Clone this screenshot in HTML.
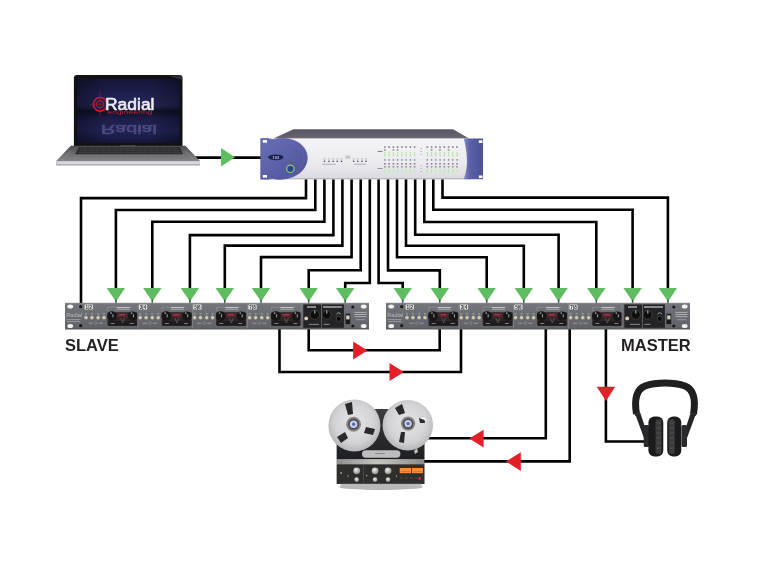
<!DOCTYPE html>
<html><head><meta charset="utf-8">
<style>
html,body{margin:0;padding:0;background:#fff;}
body{width:768px;height:576px;overflow:hidden;position:relative;font-family:"Liberation Sans",sans-serif;-webkit-font-smoothing:antialiased;}
.lbl,svg{will-change:transform;}
svg{position:absolute;left:0;top:0;}
.lbl{position:absolute;font-weight:bold;font-size:16.5px;color:#231f20;letter-spacing:0px;line-height:1;}
</style></head>
<body>
<svg width="768" height="576" viewBox="0 0 768 576">
<defs>
  <linearGradient id="rackg" x1="0" y1="0" x2="0" y2="1">
    <stop offset="0" stop-color="#74777b"/>
    <stop offset="0.5" stop-color="#686b6f"/>
    <stop offset="1" stop-color="#5f6266"/>
  </linearGradient>
  <linearGradient id="topg" x1="0" y1="0" x2="0" y2="1">
    <stop offset="0" stop-color="#5a5766"/>
    <stop offset="0.85" stop-color="#66636f"/>
    <stop offset="1" stop-color="#757280"/>
  </linearGradient>
  <linearGradient id="panelg" x1="0" y1="0" x2="0" y2="1">
    <stop offset="0" stop-color="#f4f4f7"/>
    <stop offset="0.6" stop-color="#ebebef"/>
    <stop offset="1" stop-color="#d9d9e0"/>
  </linearGradient>
  <linearGradient id="purpg" x1="0" y1="0" x2="1" y2="1">
    <stop offset="0" stop-color="#6a6fb4"/>
    <stop offset="0.5" stop-color="#5b60a8"/>
    <stop offset="1" stop-color="#4c5096"/>
  </linearGradient>
  <linearGradient id="purpg2" x1="0" y1="0" x2="1" y2="0">
    <stop offset="0" stop-color="#8a8ec6"/>
    <stop offset="0.3" stop-color="#5b60a8"/>
    <stop offset="1" stop-color="#4d5198"/>
  </linearGradient>
  <linearGradient id="scrg" x1="0" y1="0" x2="0" y2="1">
    <stop offset="0" stop-color="#161638"/>
    <stop offset="0.25" stop-color="#1f2050"/>
    <stop offset="0.42" stop-color="#23244f"/>
    <stop offset="0.5" stop-color="#101028"/>
    <stop offset="0.62" stop-color="#1c1d48"/>
    <stop offset="0.8" stop-color="#23245a"/>
    <stop offset="1" stop-color="#161638"/>
  </linearGradient>
  <linearGradient id="scrg2" x1="0" y1="0" x2="1" y2="0">
    <stop offset="0" stop-color="#000" stop-opacity="0.35"/>
    <stop offset="0.3" stop-color="#000" stop-opacity="0"/>
    <stop offset="0.7" stop-color="#000" stop-opacity="0"/>
    <stop offset="1" stop-color="#000" stop-opacity="0.3"/>
  </linearGradient>
  <linearGradient id="baseg" x1="0" y1="0" x2="0" y2="1">
    <stop offset="0" stop-color="#4a4a4f"/>
    <stop offset="0.5" stop-color="#727277"/>
    <stop offset="1" stop-color="#8e8e93"/>
  </linearGradient>
  <linearGradient id="lipg" x1="0" y1="0" x2="0" y2="1">
    <stop offset="0" stop-color="#c9c9cd"/>
    <stop offset="0.6" stop-color="#dcdce0"/>
    <stop offset="1" stop-color="#8a8a90"/>
  </linearGradient>
  <radialGradient id="reelg" cx="0.5" cy="0.45" r="0.6">
    <stop offset="0" stop-color="#e6e6e8"/>
    <stop offset="0.65" stop-color="#d2d2d5"/>
    <stop offset="1" stop-color="#adadb1"/>
  </radialGradient>
  <linearGradient id="tbodyg" x1="0" y1="0" x2="0" y2="1">
    <stop offset="0" stop-color="#3a3c40"/>
    <stop offset="1" stop-color="#1e1f22"/>
  </linearGradient>
  <linearGradient id="bandg" x1="0" y1="0" x2="1" y2="0">
    <stop offset="0" stop-color="#8e8e8b"/>
    <stop offset="0.45" stop-color="#c4c4c0"/>
    <stop offset="0.6" stop-color="#b8b8b4"/>
    <stop offset="1" stop-color="#8a8a87"/>
  </linearGradient>
  <radialGradient id="knobg" cx="0.4" cy="0.35" r="0.7">
    <stop offset="0" stop-color="#f0f0f0"/>
    <stop offset="1" stop-color="#8a8a8a"/>
  </radialGradient>
</defs>

<!-- WIRES -->
<g fill="none" stroke="#000" stroke-width="2.6" stroke-linejoin="miter" stroke-linecap="butt">
  <path d="M306,179 V198.1 H81 V303"/>
  <path d="M315.3,179 V210 H115.9 V292"/>
  <path d="M324.4,179 V221.8 H152.3 V292"/>
  <path d="M333.4,179 V235.1 H189.9 V292"/>
  <path d="M342.4,179 V245.6 H224.8 V292"/>
  <path d="M351.6,179 V257.1 H261 V292"/>
  <path d="M360.7,179 V270.3 H308.7 V292"/>
  <path d="M369.8,179 V283 H345.2 V292"/>
  <path d="M378.6,179 V283 H402.7 V292"/>
  <path d="M388,179 V270.4 H439.8 V292"/>
  <path d="M397,179 V257.3 H486.7 V292"/>
  <path d="M406,179 V245.8 H523.8 V292"/>
  <path d="M415.2,179 V234.8 H558.6 V292"/>
  <path d="M424.3,179 V222 H596.3 V292"/>
  <path d="M433.3,179 V209.8 H632.6 V292"/>
  <path d="M442.5,179 V197.6 H667.9 V292"/>
  <path d="M195,157.6 H262"/>
  <path d="M308.7,328 V350.3 H439.7 V328"/>
  <path d="M279.5,328 V372 H461 V328"/>
  <path d="M545.8,328 V438.3 H422"/>
  <path d="M569.7,328 V461.4 H422"/>
  <path d="M605.9,328 V441.5 H646"/>
</g>

<!-- GREEN ARROWS -->
<g fill="#5fbc60">
  <path d="M221,148 L221,166.5 L235,157.3 Z"/>
  <path id="ga" d="M-9.25,288 L9.25,288 L0,301.5 Z" transform="translate(115.9,0)"/>
  <use href="#ga" x="36.4"/>
  <use href="#ga" x="74"/>
  <use href="#ga" x="108.9"/>
  <use href="#ga" x="145.1"/>
  <use href="#ga" x="192.8"/>
  <use href="#ga" x="229.3"/>
  <use href="#ga" x="286.8"/>
  <use href="#ga" x="323.9"/>
  <use href="#ga" x="370.8"/>
  <use href="#ga" x="407.9"/>
  <use href="#ga" x="442.7"/>
  <use href="#ga" x="480.4"/>
  <use href="#ga" x="516.7"/>
  <use href="#ga" x="552"/>
</g>

<g stroke="#2c4a2e" stroke-width="1.6" opacity="0.85"><path d="M115.9,299.5 V303.5"/><path d="M152.3,299.5 V303.5"/><path d="M189.9,299.5 V303.5"/><path d="M224.8,299.5 V303.5"/><path d="M261,299.5 V303.5"/><path d="M308.7,299.5 V303.5"/><path d="M345.2,299.5 V303.5"/><path d="M402.7,299.5 V303.5"/><path d="M439.8,299.5 V303.5"/><path d="M486.7,299.5 V303.5"/><path d="M523.8,299.5 V303.5"/><path d="M558.6,299.5 V303.5"/><path d="M596.3,299.5 V303.5"/><path d="M632.6,299.5 V303.5"/><path d="M667.9,299.5 V303.5"/></g>
<!-- RED ARROWS -->
<g fill="#e3202a">
  <path d="M353.1,341.5 L353.1,359.5 L367.4,350.4 Z"/>
  <path d="M389.5,363 L389.5,381 L403.8,372 Z"/>
  <path d="M483.6,429.7 L483.6,447.5 L469.3,438.5 Z"/>
  <path d="M520.8,452.3 L520.8,471 L506,461.5 Z"/>
  <path d="M596.7,386.8 L615.2,386.8 L606,401 Z"/>
</g>

<!-- LAPTOP -->
<g id="laptop">
  <path d="M73.9,78 Q73.9,75.1 77,75.1 H179.4 Q182.5,75.1 182.5,78 V146 H73.9 Z" fill="#111114"/>
  <path d="M168,75.4 H179.4 Q182.3,75.4 182.3,78 V80 Z" fill="#3a3a40" opacity="0.7"/>
  <rect x="77" y="79" width="102.4" height="64.1" fill="url(#scrg)"/>
  <rect x="77" y="79" width="102.4" height="64.1" fill="url(#scrg2)"/>
  <!-- logo -->
  <g>
    <circle cx="100.2" cy="104.3" r="6.8" fill="none" stroke="#c41e38" stroke-width="1.6"/>
    <circle cx="100.2" cy="104.3" r="3.6" fill="none" stroke="#a81c34" stroke-width="1.2"/>
    <path d="M100.2,91 V117 M89.5,104.3 H104" stroke="#9a1a30" stroke-width="0.6"/>
    <text x="105" y="109.6" font-family="Liberation Sans" font-size="16.8" fill="#ececf2" stroke="#ececf2" stroke-width="0.6" textLength="49.5" lengthAdjust="spacingAndGlyphs">Radial</text>
    <text x="107.5" y="114.3" font-family="Liberation Sans" font-size="5.2" fill="#c8202e" textLength="45" lengthAdjust="spacingAndGlyphs">engineering</text>
    <text transform="translate(0,234.8) scale(1,-1)" x="101" y="110" font-family="Liberation Sans" font-size="13.5" fill="#7476a6" stroke="#7476a6" stroke-width="0.5" opacity="0.5" textLength="56" lengthAdjust="spacingAndGlyphs">Radial</text>
  </g>
  <path d="M70.8,145.8 H185.4 L200,161 V165.2 H56.2 V161 Z" fill="url(#baseg)"/>
  <path d="M79,147 H180 L183,154.2 H75 Z" fill="#2e2e32"/>
  <path d="M80,148.5 H179 M79,150.5 H180.5 M78,152.5 H181.5" stroke="#48484c" stroke-width="0.5"/>
  <path d="M85,147 V154 M91,147 V154 M97,147 V154 M103,147 V154 M109,147 V154 M115,147 V154 M121,147 V154 M127,147 V154 M133,147 V154 M139,147 V154 M145,147 V154 M151,147 V154 M157,147 V154 M163,147 V154 M169,147 V154 M175,147 V154" stroke="#4a4a4e" stroke-width="0.4"/>
  <path d="M62,160.5 L70.8,151 M194,160.5 L185.4,151" stroke="#a0a0a5" stroke-width="1" opacity="0.5"/>
  <rect x="56.2" y="161" width="143.8" height="4.2" fill="url(#lipg)"/>
  <rect x="120" y="145.4" width="16" height="1.2" fill="#555"/>
</g>

<!-- INTERFACE -->
<g id="iface">
  <polygon points="293.5,129.2 453,129.2 469.5,138.7 272.7,138.7" fill="url(#topg)"/>
  <rect x="266" y="138.5" width="204" height="40.8" fill="url(#panelg)"/>
  <rect x="266" y="178" width="204" height="1.3" fill="#b9b9c2"/>
  <!-- left purple ear -->
  <path d="M260.7,138.5 H268 Q273,140.3 278,138.8 L283,138.5 C300,139 307.3,149 307.3,157.5 C307.3,167 300,178 281,179.3 H277 Q272,177.8 268,179.3 H260.7 Z" fill="url(#purpg)" stroke="#50549a" stroke-width="0.6"/>
  <path d="M288,142 C300,146 304,152 304,158 C304,165 299,172 289,176" fill="none" stroke="#7c80c0" stroke-width="0.8" opacity="0.35"/>
  <rect x="262.8" y="140.1" width="4.2" height="2.6" fill="#fff"/>
  <rect x="262.8" y="175" width="4.2" height="2.6" fill="#fff"/>
  <ellipse cx="275.8" cy="157.3" rx="7.8" ry="2.9" fill="#1d2150"/>
  <text x="275.8" y="158.9" font-size="4" fill="#b7bbd9" text-anchor="middle" font-family="Liberation Sans" font-weight="bold">192</text>
  <circle cx="290.4" cy="168.8" r="3.7" fill="#2a4690" stroke="#8ccf5a" stroke-width="1.2"/>
  <!-- right purple ear -->
  <path d="M463.8,138.5 H483 V179.3 H463.8 C467,170 469,160 463.8,138.5 Z" fill="url(#purpg2)"/>
  <rect x="478.8" y="140.3" width="3.6" height="2.6" fill="#fff"/>
  <rect x="478.8" y="175.5" width="3.6" height="2.6" fill="#fff"/>
  <!-- small leds centre -->
  <g fill="#55555c"><rect x="323.8" y="160.6" width="1.4" height="1.4"/><rect x="328.3" y="160.6" width="1.4" height="1.4"/><rect x="332.5" y="160.6" width="1.4" height="1.4"/><rect x="336.6" y="160.6" width="1.4" height="1.4"/><rect x="340.8" y="160.6" width="1.4" height="1.4"/><rect x="352.9" y="160.6" width="1.4" height="1.4"/><rect x="357.1" y="160.6" width="1.4" height="1.4"/><rect x="361.3" y="160.6" width="1.4" height="1.4"/><rect x="365.3" y="160.6" width="1.4" height="1.4"/></g>
  <g fill="#9a9aa2"><rect x="323.5" y="158.6" width="2" height="0.7"/><rect x="328.0" y="158.6" width="2" height="0.7"/><rect x="332.2" y="158.6" width="2" height="0.7"/><rect x="336.3" y="158.6" width="2" height="0.7"/><rect x="340.5" y="158.6" width="2" height="0.7"/><rect x="352.6" y="158.6" width="2" height="0.7"/><rect x="356.8" y="158.6" width="2" height="0.7"/><rect x="361.0" y="158.6" width="2" height="0.7"/><rect x="365.0" y="158.6" width="2" height="0.7"/><rect x="322" y="163.8" width="14" height="0.7"/><rect x="354" y="163.8" width="12" height="0.7"/><rect x="345.5" y="155.8" width="4.5" height="0.7"/><rect x="345" y="157.6" width="5.5" height="0.7"/></g>
  <!-- LED meters -->
  <g id="ledcols"><rect x="384.1" y="146.2" width="1.6" height="1.7" fill="#8a8590"/><rect x="384.1" y="149.2" width="1.6" height="1.5" fill="#8d8a92"/><rect x="383.9" y="151.79999999999998" width="2" height="4.8" fill="#dcefd6"/><rect x="384.4" y="152.2" width="0.9" height="4" fill="#b9dfae"/><rect x="388.3" y="146.2" width="1.6" height="1.7" fill="#8a8590"/><rect x="388.1" y="151.79999999999998" width="2" height="4.8" fill="#dcefd6"/><rect x="388.7" y="152.2" width="0.9" height="4" fill="#b9dfae"/><rect x="392.6" y="146.2" width="1.6" height="1.7" fill="#8a8590"/><rect x="392.6" y="149.2" width="1.6" height="1.5" fill="#8d8a92"/><rect x="392.4" y="151.79999999999998" width="2" height="4.8" fill="#dcefd6"/><rect x="392.9" y="152.2" width="0.9" height="4" fill="#b9dfae"/><rect x="396.8" y="146.2" width="1.6" height="1.7" fill="#8a8590"/><rect x="396.8" y="149.2" width="1.6" height="1.5" fill="#8d8a92"/><rect x="396.6" y="151.79999999999998" width="2" height="4.8" fill="#dcefd6"/><rect x="397.2" y="152.2" width="0.9" height="4" fill="#b9dfae"/><rect x="401.1" y="146.2" width="1.6" height="1.7" fill="#8a8590"/><rect x="400.9" y="151.79999999999998" width="2" height="4.8" fill="#dcefd6"/><rect x="401.4" y="152.2" width="0.9" height="4" fill="#b9dfae"/><rect x="405.3" y="146.2" width="1.6" height="1.7" fill="#8a8590"/><rect x="405.1" y="151.79999999999998" width="2" height="4.8" fill="#dcefd6"/><rect x="405.7" y="152.2" width="0.9" height="4" fill="#b9dfae"/><rect x="409.6" y="146.2" width="1.6" height="1.7" fill="#8a8590"/><rect x="409.4" y="151.79999999999998" width="2" height="4.8" fill="#dcefd6"/><rect x="409.9" y="152.2" width="0.9" height="4" fill="#b9dfae"/><rect x="413.8" y="146.2" width="1.6" height="1.7" fill="#8a8590"/><rect x="413.6" y="151.79999999999998" width="2" height="4.8" fill="#dcefd6"/><rect x="414.2" y="152.2" width="0.9" height="4" fill="#b9dfae"/><rect x="426.5" y="146.2" width="1.6" height="1.7" fill="#8a8590"/><rect x="426.3" y="151.79999999999998" width="2" height="4.8" fill="#dcefd6"/><rect x="426.9" y="152.2" width="0.9" height="4" fill="#b9dfae"/><rect x="430.8" y="146.2" width="1.6" height="1.7" fill="#8a8590"/><rect x="430.8" y="149.2" width="1.6" height="1.5" fill="#8d8a92"/><rect x="430.6" y="151.79999999999998" width="2" height="4.8" fill="#dcefd6"/><rect x="431.1" y="152.2" width="0.9" height="4" fill="#b9dfae"/><rect x="435.0" y="146.2" width="1.6" height="1.7" fill="#8a8590"/><rect x="434.8" y="151.79999999999998" width="2" height="4.8" fill="#dcefd6"/><rect x="435.4" y="152.2" width="0.9" height="4" fill="#b9dfae"/><rect x="439.2" y="146.2" width="1.6" height="1.7" fill="#8a8590"/><rect x="439.2" y="149.2" width="1.6" height="1.5" fill="#8d8a92"/><rect x="439.1" y="151.79999999999998" width="2" height="4.8" fill="#dcefd6"/><rect x="439.6" y="152.2" width="0.9" height="4" fill="#b9dfae"/><rect x="443.5" y="146.2" width="1.6" height="1.7" fill="#8a8590"/><rect x="443.3" y="151.79999999999998" width="2" height="4.8" fill="#dcefd6"/><rect x="443.9" y="152.2" width="0.9" height="4" fill="#b9dfae"/><rect x="447.8" y="146.2" width="1.6" height="1.7" fill="#8a8590"/><rect x="447.8" y="149.2" width="1.6" height="1.5" fill="#8d8a92"/><rect x="447.6" y="151.79999999999998" width="2" height="4.8" fill="#dcefd6"/><rect x="448.1" y="152.2" width="0.9" height="4" fill="#b9dfae"/><rect x="452.0" y="146.2" width="1.6" height="1.7" fill="#8a8590"/><rect x="451.8" y="151.79999999999998" width="2" height="4.8" fill="#dcefd6"/><rect x="452.4" y="152.2" width="0.9" height="4" fill="#b9dfae"/><rect x="456.2" y="146.2" width="1.6" height="1.7" fill="#8a8590"/><rect x="456.1" y="151.79999999999998" width="2" height="4.8" fill="#dcefd6"/><rect x="456.6" y="152.2" width="0.9" height="4" fill="#b9dfae"/><rect x="384.2" y="159.2" width="1.4" height="1.4" fill="#7a7a82"/><rect x="388.4" y="159.2" width="1.4" height="1.4" fill="#7a7a82"/><rect x="392.7" y="159.2" width="1.4" height="1.4" fill="#7a7a82"/><rect x="396.9" y="159.2" width="1.4" height="1.4" fill="#7a7a82"/><rect x="401.2" y="159.2" width="1.4" height="1.4" fill="#7a7a82"/><rect x="405.4" y="159.2" width="1.4" height="1.4" fill="#7a7a82"/><rect x="409.7" y="159.2" width="1.4" height="1.4" fill="#7a7a82"/><rect x="413.9" y="159.2" width="1.4" height="1.4" fill="#7a7a82"/><rect x="426.6" y="159.2" width="1.4" height="1.4" fill="#7a7a82"/><rect x="430.9" y="159.2" width="1.4" height="1.4" fill="#7a7a82"/><rect x="435.1" y="159.2" width="1.4" height="1.4" fill="#7a7a82"/><rect x="439.4" y="159.2" width="1.4" height="1.4" fill="#7a7a82"/><rect x="443.6" y="159.2" width="1.4" height="1.4" fill="#7a7a82"/><rect x="447.9" y="159.2" width="1.4" height="1.4" fill="#7a7a82"/><rect x="452.1" y="159.2" width="1.4" height="1.4" fill="#7a7a82"/><rect x="456.4" y="159.2" width="1.4" height="1.4" fill="#7a7a82"/><rect x="384.1" y="163" width="1.6" height="1.7" fill="#8a8590"/><rect x="384.1" y="166" width="1.6" height="1.5" fill="#8d8a92"/><rect x="383.9" y="168.6" width="2" height="4.8" fill="#dcefd6"/><rect x="384.4" y="169" width="0.9" height="4" fill="#b9dfae"/><rect x="388.3" y="163" width="1.6" height="1.7" fill="#8a8590"/><rect x="388.3" y="166" width="1.6" height="1.5" fill="#8d8a92"/><rect x="388.1" y="168.6" width="2" height="4.8" fill="#dcefd6"/><rect x="388.7" y="169" width="0.9" height="4" fill="#b9dfae"/><rect x="392.6" y="163" width="1.6" height="1.7" fill="#8a8590"/><rect x="392.6" y="166" width="1.6" height="1.5" fill="#8d8a92"/><rect x="392.4" y="168.6" width="2" height="4.8" fill="#dcefd6"/><rect x="392.9" y="169" width="0.9" height="4" fill="#b9dfae"/><rect x="396.8" y="163" width="1.6" height="1.7" fill="#8a8590"/><rect x="396.8" y="166" width="1.6" height="1.5" fill="#8d8a92"/><rect x="396.6" y="168.6" width="2" height="4.8" fill="#dcefd6"/><rect x="397.2" y="169" width="0.9" height="4" fill="#b9dfae"/><rect x="401.1" y="163" width="1.6" height="1.7" fill="#8a8590"/><rect x="401.1" y="166" width="1.6" height="1.5" fill="#8d8a92"/><rect x="400.9" y="168.6" width="2" height="4.8" fill="#dcefd6"/><rect x="401.4" y="169" width="0.9" height="4" fill="#b9dfae"/><rect x="405.3" y="163" width="1.6" height="1.7" fill="#8a8590"/><rect x="405.3" y="166" width="1.6" height="1.5" fill="#8d8a92"/><rect x="405.1" y="168.6" width="2" height="4.8" fill="#dcefd6"/><rect x="405.7" y="169" width="0.9" height="4" fill="#b9dfae"/><rect x="409.6" y="163" width="1.6" height="1.7" fill="#8a8590"/><rect x="409.6" y="166" width="1.6" height="1.5" fill="#8d8a92"/><rect x="409.4" y="168.6" width="2" height="4.8" fill="#dcefd6"/><rect x="409.9" y="169" width="0.9" height="4" fill="#b9dfae"/><rect x="413.8" y="163" width="1.6" height="1.7" fill="#8a8590"/><rect x="413.8" y="166" width="1.6" height="1.5" fill="#8d8a92"/><rect x="413.6" y="168.6" width="2" height="4.8" fill="#dcefd6"/><rect x="414.2" y="169" width="0.9" height="4" fill="#b9dfae"/><rect x="426.5" y="163" width="1.6" height="1.7" fill="#8a8590"/><rect x="426.5" y="166" width="1.6" height="1.5" fill="#8d8a92"/><rect x="426.3" y="168.6" width="2" height="4.8" fill="#dcefd6"/><rect x="426.9" y="169" width="0.9" height="4" fill="#b9dfae"/><rect x="430.8" y="163" width="1.6" height="1.7" fill="#8a8590"/><rect x="430.8" y="166" width="1.6" height="1.5" fill="#8d8a92"/><rect x="430.6" y="168.6" width="2" height="4.8" fill="#dcefd6"/><rect x="431.1" y="169" width="0.9" height="4" fill="#b9dfae"/><rect x="435.0" y="163" width="1.6" height="1.7" fill="#8a8590"/><rect x="435.0" y="166" width="1.6" height="1.5" fill="#8d8a92"/><rect x="434.8" y="168.6" width="2" height="4.8" fill="#dcefd6"/><rect x="435.4" y="169" width="0.9" height="4" fill="#b9dfae"/><rect x="439.2" y="163" width="1.6" height="1.7" fill="#8a8590"/><rect x="439.2" y="166" width="1.6" height="1.5" fill="#8d8a92"/><rect x="439.1" y="168.6" width="2" height="4.8" fill="#dcefd6"/><rect x="439.6" y="169" width="0.9" height="4" fill="#b9dfae"/><rect x="443.5" y="163" width="1.6" height="1.7" fill="#8a8590"/><rect x="443.5" y="166" width="1.6" height="1.5" fill="#8d8a92"/><rect x="443.3" y="168.6" width="2" height="4.8" fill="#dcefd6"/><rect x="443.9" y="169" width="0.9" height="4" fill="#b9dfae"/><rect x="447.8" y="163" width="1.6" height="1.7" fill="#8a8590"/><rect x="447.8" y="166" width="1.6" height="1.5" fill="#8d8a92"/><rect x="447.6" y="168.6" width="2" height="4.8" fill="#dcefd6"/><rect x="448.1" y="169" width="0.9" height="4" fill="#b9dfae"/><rect x="452.0" y="163" width="1.6" height="1.7" fill="#8a8590"/><rect x="452.0" y="166" width="1.6" height="1.5" fill="#8d8a92"/><rect x="451.8" y="168.6" width="2" height="4.8" fill="#dcefd6"/><rect x="452.4" y="169" width="0.9" height="4" fill="#b9dfae"/><rect x="456.2" y="163" width="1.6" height="1.7" fill="#8a8590"/><rect x="456.2" y="166" width="1.6" height="1.5" fill="#8d8a92"/><rect x="456.1" y="168.6" width="2" height="4.8" fill="#dcefd6"/><rect x="456.6" y="169" width="0.9" height="4" fill="#b9dfae"/><rect x="420.5" y="148" width="1.5" height="0.8" fill="#a8a8b0"/><rect x="420.5" y="151" width="1.5" height="0.8" fill="#a8a8b0"/><rect x="420.5" y="154" width="1.5" height="0.8" fill="#a8a8b0"/><rect x="420.5" y="165" width="1.5" height="0.8" fill="#a8a8b0"/><rect x="420.5" y="168" width="1.5" height="0.8" fill="#a8a8b0"/><rect x="420.5" y="171" width="1.5" height="0.8" fill="#a8a8b0"/><rect x="377.6" y="150.9" width="5" height="0.9" fill="#6a6a72"/><rect x="377.6" y="168" width="5" height="0.9" fill="#8a8a92"/></g>
</g>

<!-- TAPE MACHINE -->
<g id="tape">
  <ellipse cx="381" cy="487" rx="42" ry="3" fill="#000" opacity="0.28"/>
  <rect x="336.8" y="409" width="87.5" height="75" fill="#262628"/>
  <rect x="336.8" y="409" width="87.5" height="50" fill="url(#tbodyg)"/>
  <!-- reels -->
  <circle cx="354.4" cy="425.5" r="26" fill="url(#reelg)"/>
  <circle cx="407.8" cy="425.2" r="25.2" fill="url(#reelg)"/>
  <g fill="#2a2a2c">
    <path d="M345,404 L352,402 L353,414 L348,415 Z"/>
    <path d="M366,427 L375,429 L373,435 L364,433 Z"/>
    <path d="M337,437 L345,432 L348,438 L341,443 Z"/>
    <path d="M395,408 L402,404 L405,413 L399,415 Z"/>
    <path d="M419,418 L424,416 L425,423 L420,423 Z"/>
    <path d="M401,432 L405,432 L404,443 L399,442 Z"/>
  </g>
  <path d="M419,418 L424,416 L427,421 Z" fill="#f0f0f0"/>
  <circle cx="353.6" cy="424.2" r="7.5" fill="#8c8a80"/>
  <circle cx="353.6" cy="424.2" r="5.6" fill="#4a4c58"/>
  <circle cx="353.6" cy="424.2" r="3.8" fill="#c8cde8"/>
  <circle cx="353.6" cy="424.2" r="1.6" fill="#5562b8"/>
  <circle cx="408.1" cy="423.6" r="7.2" fill="#8c8a80"/>
  <circle cx="408.1" cy="423.6" r="5.4" fill="#4a4c58"/>
  <circle cx="408.1" cy="423.6" r="3.7" fill="#c8cde8"/>
  <circle cx="408.1" cy="423.6" r="1.6" fill="#5562b8"/>
  <!-- head cover -->
  <rect x="362" y="450.3" width="38.4" height="7.5" rx="3.7" fill="#bdbdc0"/>
  <rect x="375" y="453" width="10" height="1" fill="#888"/>
  <path d="M414,451 L417,448 L418,452 L415,454 Z" fill="#bbb"/>
  <!-- silver band -->
  <rect x="336.8" y="459.1" width="87.5" height="5.5" fill="url(#bandg)"/>
  <!-- control panel -->
  <rect x="336.8" y="464.6" width="87.5" height="19.2" fill="#2e2e2c"/>
  <rect x="363" y="465" width="0.6" height="18" fill="#555"/>
  <g fill="url(#knobg)">
    <circle cx="356.7" cy="470.8" r="3.4"/>
    <circle cx="375.1" cy="470.8" r="3.4"/>
    <circle cx="388.1" cy="470.8" r="3.4"/>
    <circle cx="356.7" cy="479.6" r="2.3"/>
    <circle cx="375.1" cy="479.6" r="2.3"/>
    <circle cx="388.1" cy="479.6" r="2.3"/>
  </g>
  <g fill="#9a9a96">
    <circle cx="341" cy="473" r="1"/><circle cx="348" cy="476" r="0.8"/><circle cx="366.6" cy="475.5" r="0.8"/><circle cx="396.5" cy="476" r="0.8"/>
  </g>
  <rect x="399.7" y="468" width="11.5" height="5.2" fill="#f58d3c"/>
  <rect x="412" y="468" width="11" height="5.2" fill="#f58d3c"/>
  <path d="M401,471.5 H410 M413.3,471.5 H422" stroke="#c8642a" stroke-width="0.6"/>
  <g fill="#4a3a34"><rect x="400" y="477" width="2.5" height="2"/><rect x="405" y="477" width="2.5" height="2"/><rect x="410" y="477" width="2.5" height="2"/><rect x="415" y="477" width="2.5" height="2"/></g>
  <rect x="418.5" y="477" width="2.5" height="3" fill="#b0302a"/>
  <rect x="340.3" y="483.8" width="81.3" height="2" fill="#b9b9b9"/>
</g>

<!-- HEADPHONES -->
<g id="phones">
  <path d="M636.5,414 C634.5,402 635,390 645,386 C652,383.5 658,383 665,383 C672,383 678,383.5 685,386 C695,390 695.5,402 693.5,414" fill="none" stroke="#1f1f21" stroke-width="7"/>
  
  <rect x="634.8" y="412.5" width="6" height="3.6" rx="1.5" fill="#2c2c2e"/>
  <rect x="690.2" y="412.5" width="6" height="3.6" rx="1.5" fill="#2c2c2e"/>
  <path d="M635.5,415 L641,415 L648,436 L644,438 Z" fill="#252527"/>
  <path d="M695.5,415 L690,415 L683,436 L687,438 Z" fill="#252527"/>
  <rect x="643.7" y="425" width="5.5" height="22" rx="1.5" fill="#2a2a2c"/>
  <rect x="681.5" y="425" width="5.5" height="22" rx="1.5" fill="#2a2a2c"/>
  <rect x="648.4" y="416.5" width="14.9" height="39.9" rx="6" fill="#1b1b1d"/>
  <rect x="667.2" y="416.5" width="14.1" height="39.9" rx="6" fill="#1b1b1d"/>
  <rect x="655.5" y="419" width="6" height="35" rx="2.5" fill="#3a3a3d"/>
  <rect x="668.8" y="419" width="6" height="35" rx="2.5" fill="#3a3a3d"/>
  <path d="M656.5,423 H660.5 M656.5,428 H660.5 M656.5,433 H660.5 M656.5,438 H660.5 M656.5,443 H660.5 M656.5,448 H660.5 M669.8,423 H673.8 M669.8,428 H673.8 M669.8,433 H673.8 M669.8,438 H673.8 M669.8,443 H673.8 M669.8,448 H673.8" stroke="#5a5a5e" stroke-width="0.8"/>
</g>

<!-- RACKS -->
<g id="rack1" transform="translate(65,302.9)"><rect x="0" y="0" width="304" height="26.4" fill="url(#rackg)"/><rect x="0" y="0" width="304" height="0.7" fill="#8a8c90"/><rect x="0" y="25.7" width="304" height="0.7" fill="#55575b"/><ellipse cx="5.25" cy="3.5" rx="2.9" ry="2" fill="#f4f4f4"/><ellipse cx="5.25" cy="23.2" rx="2.9" ry="2" fill="#f4f4f4"/><ellipse cx="298.7" cy="3.5" rx="2.9" ry="2" fill="#f4f4f4"/><ellipse cx="298.7" cy="23.2" rx="2.9" ry="2" fill="#f4f4f4"/><circle cx="15.7" cy="3.8" r="1.6" fill="#1a1a1a"/><circle cx="15.7" cy="22.8" r="1.6" fill="#1a1a1a"/><circle cx="287.8" cy="4.1" r="1.6" fill="#1a1a1a"/><circle cx="287.8" cy="23.1" r="1.6" fill="#1a1a1a"/><text x="1.2" y="14.2" font-family="Liberation Sans" font-size="5.5" fill="#b8babd" textLength="16" lengthAdjust="spacingAndGlyphs">Radial</text><rect x="1.5" y="16.3" width="14" height="0.9" fill="#9c9ea1"/><rect x="1.5" y="18.3" width="14" height="0.9" fill="#9c9ea1"/><rect x="19.7" y="1.7" width="8.2" height="5" rx="0.6" fill="#e8e8e8"/><text x="23.8" y="5.9" font-family="Liberation Sans" font-weight="bold" font-size="4.6" fill="#303030" text-anchor="middle">1|2</text><circle cx="21.0" cy="14.8" r="2.1" fill="#cfc9b4" stroke="#4a4a48" stroke-width="0.4"/><rect x="20.0" y="10.6" width="2" height="0.8" fill="#c2bcbb"/><circle cx="26.9" cy="14.8" r="2.1" fill="#cfc9b4" stroke="#4a4a48" stroke-width="0.4"/><rect x="25.9" y="10.6" width="2" height="0.8" fill="#c2bcbb"/><circle cx="33.1" cy="14.8" r="2.1" fill="#cfc9b4" stroke="#4a4a48" stroke-width="0.4"/><rect x="32.1" y="10.6" width="2" height="0.8" fill="#c2bcbb"/><circle cx="39.0" cy="14.8" r="2.1" fill="#cfc9b4" stroke="#4a4a48" stroke-width="0.4"/><rect x="38.0" y="10.6" width="2" height="0.8" fill="#c2bcbb"/><rect x="23.7" y="19.9" width="4" height="0.8" fill="#a4a6a9"/><circle cx="30.7" cy="20.3" r="1.3" fill="none" stroke="#a4a6a9" stroke-width="0.4"/><rect x="33.7" y="19.9" width="4" height="0.8" fill="#a4a6a9"/><path d="M42.7,8 V4.3 H66.7" fill="none" stroke="#9a9ca0" stroke-width="0.5"/><rect x="51.7" y="4.2" width="13" height="1.1" fill="#c8cacd"/><rect x="51.7" y="6.1" width="13" height="0.7" fill="#aeb0b3"/><rect x="42.5" y="9.4" width="30" height="13.4" rx="1" fill="#2a2628"/><rect x="43.7" y="18.4" width="28" height="4.4" fill="#1c1c1e"/><rect x="45.7" y="20.2" width="4" height="0.8" fill="#9a9a9a"/><rect x="64.7" y="20.2" width="4" height="0.8" fill="#9a9a9a"/><rect x="52.2" y="10.4" width="10.4" height="4" fill="#5a2430"/><rect x="54.2" y="11.4" width="6" height="1" fill="#b84050"/><path d="M55.7,15 L57.7,20 M59.7,15 L57.7,20" stroke="#8a6a60" stroke-width="0.6"/><circle cx="47.0" cy="13.2" r="4.8" fill="#161616"/><circle cx="46.0" cy="10.2" r="0.9" fill="#9a9a9a"/><circle cx="67.6" cy="13.2" r="4.7" fill="#161616"/><circle cx="66.6" cy="10.2" r="0.9" fill="#9a9a9a"/><rect x="47.5" y="11.4" width="0.9" height="3" fill="#b8b8b8"/><rect x="68.1" y="11.4" width="0.9" height="3" fill="#b8b8b8"/><rect x="72.6" y="1" width="0.6" height="24.6" fill="#8d8f93"/><rect x="73.9" y="1.7" width="8.2" height="5" rx="0.6" fill="#e8e8e8"/><text x="78.0" y="5.9" font-family="Liberation Sans" font-weight="bold" font-size="4.6" fill="#303030" text-anchor="middle">3|4</text><circle cx="75.2" cy="14.8" r="2.1" fill="#cfc9b4" stroke="#4a4a48" stroke-width="0.4"/><rect x="74.2" y="10.6" width="2" height="0.8" fill="#c2bcbb"/><circle cx="81.1" cy="14.8" r="2.1" fill="#cfc9b4" stroke="#4a4a48" stroke-width="0.4"/><rect x="80.1" y="10.6" width="2" height="0.8" fill="#c2bcbb"/><circle cx="87.3" cy="14.8" r="2.1" fill="#cfc9b4" stroke="#4a4a48" stroke-width="0.4"/><rect x="86.3" y="10.6" width="2" height="0.8" fill="#c2bcbb"/><circle cx="93.2" cy="14.8" r="2.1" fill="#cfc9b4" stroke="#4a4a48" stroke-width="0.4"/><rect x="92.2" y="10.6" width="2" height="0.8" fill="#c2bcbb"/><rect x="77.9" y="19.9" width="4" height="0.8" fill="#a4a6a9"/><circle cx="84.9" cy="20.3" r="1.3" fill="none" stroke="#a4a6a9" stroke-width="0.4"/><rect x="87.9" y="19.9" width="4" height="0.8" fill="#a4a6a9"/><path d="M96.9,8 V4.3 H120.9" fill="none" stroke="#9a9ca0" stroke-width="0.5"/><rect x="105.9" y="4.2" width="13" height="1.1" fill="#c8cacd"/><rect x="105.9" y="6.1" width="13" height="0.7" fill="#aeb0b3"/><rect x="96.7" y="9.4" width="30" height="13.4" rx="1" fill="#2a2628"/><rect x="97.9" y="18.4" width="28" height="4.4" fill="#1c1c1e"/><rect x="99.9" y="20.2" width="4" height="0.8" fill="#9a9a9a"/><rect x="118.9" y="20.2" width="4" height="0.8" fill="#9a9a9a"/><rect x="106.4" y="10.4" width="10.4" height="4" fill="#5a2430"/><rect x="108.4" y="11.4" width="6" height="1" fill="#b84050"/><path d="M109.9,15 L111.9,20 M113.9,15 L111.9,20" stroke="#8a6a60" stroke-width="0.6"/><circle cx="101.2" cy="13.2" r="4.8" fill="#161616"/><circle cx="100.2" cy="10.2" r="0.9" fill="#9a9a9a"/><circle cx="121.8" cy="13.2" r="4.7" fill="#161616"/><circle cx="120.8" cy="10.2" r="0.9" fill="#9a9a9a"/><rect x="101.7" y="11.4" width="0.9" height="3" fill="#b8b8b8"/><rect x="122.3" y="11.4" width="0.9" height="3" fill="#b8b8b8"/><rect x="127.0" y="1" width="0.6" height="24.6" fill="#8d8f93"/><rect x="128.3" y="1.7" width="8.2" height="5" rx="0.6" fill="#e8e8e8"/><text x="132.4" y="5.9" font-family="Liberation Sans" font-weight="bold" font-size="4.6" fill="#303030" text-anchor="middle">5|6</text><circle cx="129.6" cy="14.8" r="2.1" fill="#cfc9b4" stroke="#4a4a48" stroke-width="0.4"/><rect x="128.6" y="10.6" width="2" height="0.8" fill="#c2bcbb"/><circle cx="135.5" cy="14.8" r="2.1" fill="#cfc9b4" stroke="#4a4a48" stroke-width="0.4"/><rect x="134.5" y="10.6" width="2" height="0.8" fill="#c2bcbb"/><circle cx="141.7" cy="14.8" r="2.1" fill="#cfc9b4" stroke="#4a4a48" stroke-width="0.4"/><rect x="140.7" y="10.6" width="2" height="0.8" fill="#c2bcbb"/><circle cx="147.6" cy="14.8" r="2.1" fill="#cfc9b4" stroke="#4a4a48" stroke-width="0.4"/><rect x="146.6" y="10.6" width="2" height="0.8" fill="#c2bcbb"/><rect x="132.3" y="19.9" width="4" height="0.8" fill="#a4a6a9"/><circle cx="139.3" cy="20.3" r="1.3" fill="none" stroke="#a4a6a9" stroke-width="0.4"/><rect x="142.3" y="19.9" width="4" height="0.8" fill="#a4a6a9"/><path d="M151.3,8 V4.3 H175.3" fill="none" stroke="#9a9ca0" stroke-width="0.5"/><rect x="160.3" y="4.2" width="13" height="1.1" fill="#c8cacd"/><rect x="160.3" y="6.1" width="13" height="0.7" fill="#aeb0b3"/><rect x="151.1" y="9.4" width="30" height="13.4" rx="1" fill="#2a2628"/><rect x="152.3" y="18.4" width="28" height="4.4" fill="#1c1c1e"/><rect x="154.3" y="20.2" width="4" height="0.8" fill="#9a9a9a"/><rect x="173.3" y="20.2" width="4" height="0.8" fill="#9a9a9a"/><rect x="160.8" y="10.4" width="10.4" height="4" fill="#5a2430"/><rect x="162.8" y="11.4" width="6" height="1" fill="#b84050"/><path d="M164.3,15 L166.3,20 M168.3,15 L166.3,20" stroke="#8a6a60" stroke-width="0.6"/><circle cx="155.6" cy="13.2" r="4.8" fill="#161616"/><circle cx="154.6" cy="10.2" r="0.9" fill="#9a9a9a"/><circle cx="176.2" cy="13.2" r="4.7" fill="#161616"/><circle cx="175.2" cy="10.2" r="0.9" fill="#9a9a9a"/><rect x="156.1" y="11.4" width="0.9" height="3" fill="#b8b8b8"/><rect x="176.7" y="11.4" width="0.9" height="3" fill="#b8b8b8"/><rect x="182.1" y="1" width="0.6" height="24.6" fill="#8d8f93"/><rect x="183.4" y="1.7" width="8.2" height="5" rx="0.6" fill="#e8e8e8"/><text x="187.5" y="5.9" font-family="Liberation Sans" font-weight="bold" font-size="4.6" fill="#303030" text-anchor="middle">7|8</text><circle cx="184.7" cy="14.8" r="2.1" fill="#cfc9b4" stroke="#4a4a48" stroke-width="0.4"/><rect x="183.7" y="10.6" width="2" height="0.8" fill="#c2bcbb"/><circle cx="190.6" cy="14.8" r="2.1" fill="#cfc9b4" stroke="#4a4a48" stroke-width="0.4"/><rect x="189.6" y="10.6" width="2" height="0.8" fill="#c2bcbb"/><circle cx="196.8" cy="14.8" r="2.1" fill="#cfc9b4" stroke="#4a4a48" stroke-width="0.4"/><rect x="195.8" y="10.6" width="2" height="0.8" fill="#c2bcbb"/><circle cx="202.7" cy="14.8" r="2.1" fill="#cfc9b4" stroke="#4a4a48" stroke-width="0.4"/><rect x="201.7" y="10.6" width="2" height="0.8" fill="#c2bcbb"/><rect x="187.4" y="19.9" width="4" height="0.8" fill="#a4a6a9"/><circle cx="194.4" cy="20.3" r="1.3" fill="none" stroke="#a4a6a9" stroke-width="0.4"/><rect x="197.4" y="19.9" width="4" height="0.8" fill="#a4a6a9"/><path d="M206.4,8 V4.3 H230.4" fill="none" stroke="#9a9ca0" stroke-width="0.5"/><rect x="215.4" y="4.2" width="13" height="1.1" fill="#c8cacd"/><rect x="215.4" y="6.1" width="13" height="0.7" fill="#aeb0b3"/><rect x="206.2" y="9.4" width="30" height="13.4" rx="1" fill="#2a2628"/><rect x="207.4" y="18.4" width="28" height="4.4" fill="#1c1c1e"/><rect x="209.4" y="20.2" width="4" height="0.8" fill="#9a9a9a"/><rect x="228.4" y="20.2" width="4" height="0.8" fill="#9a9a9a"/><rect x="215.9" y="10.4" width="10.4" height="4" fill="#5a2430"/><rect x="217.9" y="11.4" width="6" height="1" fill="#b84050"/><path d="M219.4,15 L221.4,20 M223.4,15 L221.4,20" stroke="#8a6a60" stroke-width="0.6"/><circle cx="210.7" cy="13.2" r="4.8" fill="#161616"/><circle cx="209.7" cy="10.2" r="0.9" fill="#9a9a9a"/><circle cx="231.3" cy="13.2" r="4.7" fill="#161616"/><circle cx="230.3" cy="10.2" r="0.9" fill="#9a9a9a"/><rect x="211.2" y="11.4" width="0.9" height="3" fill="#b8b8b8"/><rect x="231.8" y="11.4" width="0.9" height="3" fill="#b8b8b8"/><rect x="235.7" y="1" width="0.6" height="24.6" fill="#8d8f93"/><rect x="238.3" y="1.5" width="17.7" height="23.4" fill="#242426"/><rect x="242" y="3.4" width="9" height="1.4" fill="#b5b5b5"/><circle cx="249.7" cy="11.9" r="4.6" fill="#0e0e0e" stroke="#5a5a5a" stroke-width="0.5"/><rect x="249.4" y="7.6" width="0.9" height="3" fill="#dcdcdc"/><circle cx="241.2" cy="15.5" r="1.9" fill="#d6d0ba"/><rect x="244" y="21" width="10" height="0.8" fill="#a0a0a0"/><rect x="256.8" y="1.5" width="22.1" height="23.4" fill="#242426"/><rect x="258" y="3.4" width="19" height="1.4" fill="#b5b5b5"/><circle cx="261.7" cy="11.9" r="4.4" fill="#0e0e0e" stroke="#5a5a5a" stroke-width="0.5"/><rect x="261.4" y="7.6" width="0.9" height="3" fill="#dcdcdc"/><circle cx="273.7" cy="16" r="2.5" fill="#050505" stroke="#6a6a6a" stroke-width="0.5"/><path d="M271.5,11.5 Q273.7,8 275.9,11.5" fill="none" stroke="#d0d0d0" stroke-width="0.7"/><rect x="258.5" y="21" width="6" height="0.8" fill="#a0a0a0"/><rect x="280.5" y="10.8" width="4.7" height="10.4" fill="#1a1a1a"/><rect x="281.2" y="12.5" width="3.3" height="4" fill="#d8d4c4"/><rect x="289.5" y="9" width="12" height="0.8" fill="#c0c2c5"/><rect x="289.5" y="11.2" width="12" height="0.8" fill="#c0c2c5"/><rect x="289.5" y="13.4" width="12" height="0.8" fill="#c0c2c5"/><rect x="291" y="16.5" width="9" height="0.7" fill="#a8aaad"/></g>
<use href="#rack1" x="321"/>
<!-- /RACKS -->

</svg>
<div class="lbl" style="left:65px;top:337px;">SLAVE</div>
<div class="lbl" style="left:620.5px;top:337px;">MASTER</div>
</body></html>
